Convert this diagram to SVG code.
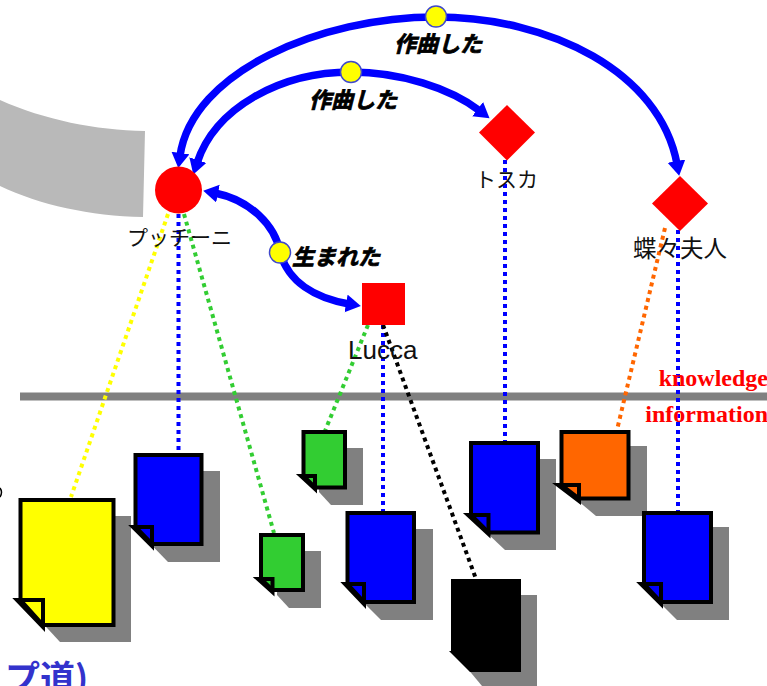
<svg xmlns="http://www.w3.org/2000/svg" width="767" height="686" viewBox="0 0 767 686">
<style>
.conn{fill:none;stroke:#0000ff;stroke-width:7.500}
.dot{fill:none;stroke-width:4;stroke-dasharray:4 4}
.mid{fill:#ffff00;stroke:#3f48cc;stroke-width:1.500}
.red{fill:#ff0000}
.lab{font-family:"Noto Sans CJK JP","Liberation Sans",sans-serif;font-size:21px;fill:#111}
.rel{font-family:"Noto Sans CJK JP",sans-serif;font-size:22px;font-weight:700;font-style:italic;fill:#000;stroke:#000;stroke-width:.8}
.ser{font-family:"Liberation Serif",serif;font-size:24px;font-weight:700;fill:#ff0000;text-anchor:end}
.sh{fill:#808080}
.doc{stroke:#000;stroke-width:4}
.fold{fill:none;stroke:#000;stroke-width:4}
</style>
<defs>
<marker id="ah" markerUnits="userSpaceOnUse" markerWidth="18" markerHeight="20" refX="3" refY="9" orient="auto-start-reverse"><path d="M0,0 L15,9 L0,18 Z" fill="#0000ff"/></marker>
</defs>
<path id="band" d="M0,100 C45,120 95,130 145,131 L143,217 C90,216 40,205 0,186 Z" fill="#b9b9b9"/>
<path d="M0,488 Q3,492 0,497" fill="none" stroke="#000" stroke-width="1.500"/>
<rect id="divider" x="20" y="392.500" width="747" height="8" fill="#808080"/>
<g id="connectors">
<path class="dot" stroke="#ffff00" d="M168,214 L71,497"/>
<path class="dot" stroke="#0000ff" d="M178.500,214 V452"/>
<path class="dot" stroke="#32cd32" d="M184,214 L274,533"/>
<path class="dot" stroke="#32cd32" d="M368,325 L325,431"/>
<path class="dot" stroke="#0000ff" d="M383,325 V511"/>
<path class="dot" stroke="#000" d="M383,325 L476,579"/>
<path class="dot" stroke="#0000ff" d="M505,160 V441"/>
<path class="dot" stroke="#ff6600" d="M665,228 L617,430"/>
<path class="dot" stroke="#0000ff" d="M678,230 V511"/>
<path class="conn" marker-start="url(#ah)" marker-end="url(#ah)" d="M180,156 C192,72 320,17 436,17 C550,17 660,72 677,164"/>
<path class="conn" marker-start="url(#ah)" marker-end="url(#ah)" d="M197,163 C215,108 280,72 351,72 C400,72 450,88 480,111"/>
<path class="conn" marker-start="url(#ah)" marker-end="url(#ah)" d="M215,193 C250,200 275,225 280,252 C288,282 315,298 349,304"/>
</g>
<g id="doc-yellow"><path class="sh" d="M36,516 H131 V642 H60 L36,616 Z"/><path class="doc" fill="#ffff00" d="M20.500,500 H113.500 V625 H43 L20.500,600 Z"/><path class="fold" d="M17,600 H43 V627 Z"/></g>
<g id="doc-blue-1"><path class="sh" d="M151.500,471 H220 V562 H168 L151.500,545 Z"/><path class="doc" fill="#0000ff" d="M135.500,455 H201.500 V544 H152 L135.500,527 Z"/><path class="fold" d="M133,527 H152 V546 Z"/></g>
<g id="doc-green-1"><path class="sh" d="M319,448 H363 V505 H331 L319,492 Z"/><path class="doc" fill="#32cd32" d="M303.500,432 H345 V487.500 H315 L303.500,476 Z"/><path class="fold" d="M301,476 H315 V489 Z"/></g>
<g id="doc-green-2"><path class="sh" d="M277,551 H321 V608 H289 L277,595 Z"/><path class="doc" fill="#32cd32" d="M261,535 H303 V590 H272.500 L261,579 Z"/><path class="fold" d="M258,579 H272.500 V592 Z"/></g>
<g id="doc-blue-2"><path class="sh" d="M364,529 H433 V620 H381 L364,603 Z"/><path class="doc" fill="#0000ff" d="M347.500,513 H414 V602 H364 L347.500,584 Z"/><path class="fold" d="M345,584 H364 V604 Z"/></g>
<g id="doc-blue-3"><path class="sh" d="M487,459 H556 V550 H505 L487,533 Z"/><path class="doc" fill="#0000ff" d="M471,443 H538 V532.500 H488.500 L471,515 Z"/><path class="fold" d="M468,515 H488.500 V534 Z"/></g>
<g id="doc-orange"><path class="sh" d="M577,446 H647 V516 H596 L577,500 Z"/><path class="doc" fill="#ff6600" d="M561.500,432 H628.500 V498.500 H579 L561.500,485 Z"/><path class="fold" d="M558,485 H579 V501 Z"/></g>
<g id="doc-blue-4"><path class="sh" d="M660,527 H729 V620 H677 L660,603 Z"/><path class="doc" fill="#0000ff" d="M644,513 H711 V602 H661 L644,584 Z"/><path class="fold" d="M641,584 H661 V604 Z"/></g>
<g id="doc-black"><path class="sh" d="M467,595 H537 V686 H482 L467,668 Z"/><path fill="#000" d="M451,579 H521 V672 H470 L449,651 H451 Z"/></g>
<g id="node-puccini"><circle class="red" cx="178.500" cy="190" r="23.500"/><text class="lab" x="127" y="245">プッチーニ</text></g>
<g id="node-lucca"><rect class="red" x="362" y="283" width="43" height="42"/><text class="lab" x="348" y="359" style="font-family:'Liberation Sans',sans-serif;font-size:26px">Lucca</text></g>
<g id="node-tosca"><path class="red" d="M507,105 L535,132.500 L507,160.500 L479,132.500 Z"/><text class="lab" x="475" y="187">トスカ</text></g>
<g id="node-butterfly"><path class="red" d="M680,176 L708,203.500 L680,231 L652,203.500 Z"/><text class="lab" x="633" y="257" style="font-size:23.500px">蝶々夫人</text></g>
<g id="rel-1"><circle class="mid" cx="436" cy="16.500" r="10.500"/><text class="rel" x="394" y="52">作曲した</text></g>
<g id="rel-2"><circle class="mid" cx="351" cy="72" r="10.500"/><text class="rel" x="309" y="108">作曲した</text></g>
<g id="rel-3"><circle class="mid" cx="280" cy="252.500" r="10.500"/><text class="rel" x="292" y="265">生まれた</text></g>
<text class="ser" x="768" y="386">knowledge</text>
<text class="ser" x="768" y="422">information</text>
<text x="5" y="691" style="font-family:'Noto Sans CJK JP',sans-serif;font-size:35px;font-weight:700;fill:#3333cc">プ道)</text>
</svg>
